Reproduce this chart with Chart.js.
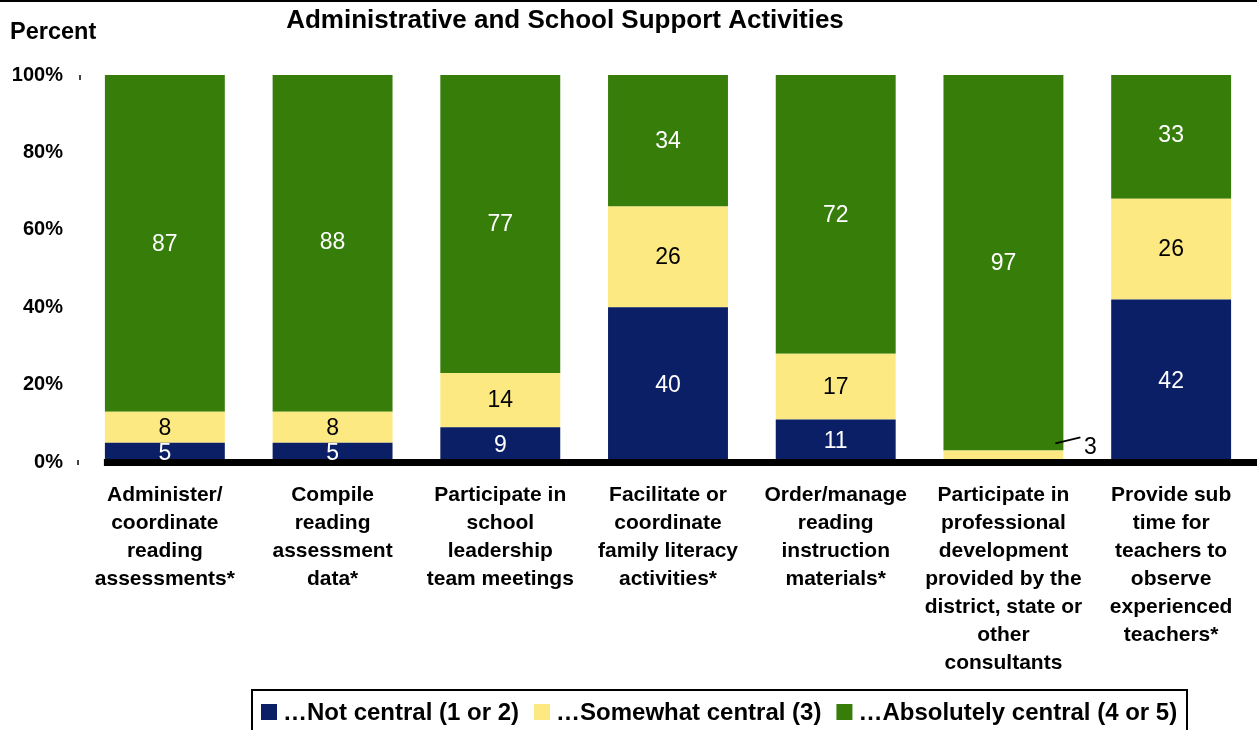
<!DOCTYPE html>
<html>
<head>
<meta charset="utf-8">
<script src="https://cdn.jsdelivr.net/npm/chart.js@4.4.1/dist/chart.umd.min.js"></script>
<style>
  html, body { margin: 0; padding: 0; background: #fff; }
  canvas { display: block; }
</style>
</head>
<body>
<canvas id="grafico" width="1257" height="730"></canvas>
<script>
// categorias (cada linha do rótulo separada)
const categorias = [
  ['Administer/', 'coordinate', 'reading', 'assessments*'],
  ['Compile', 'reading', 'assessment', 'data*'],
  ['Participate in', 'school', 'leadership', 'team meetings'],
  ['Facilitate or', 'coordinate', 'family literacy', 'activities*'],
  ['Order/manage', 'reading', 'instruction', 'materials*'],
  ['Participate in', 'professional', 'development', 'provided by the', 'district, state or', 'other', 'consultants'],
  ['Provide sub', 'time for', 'teachers to', 'observe', 'experienced', 'teachers*']
];

// valores em percentual
const naoCentral = [5, 5, 9, 40, 11, 0, 42];
const algoCentral = [8, 8, 14, 26, 17, 3, 26];
const absCentral = [87, 88, 77, 34, 72, 97, 33];

const nomesSeries = ['\u2026Not central (1 or 2)', '\u2026Somewhat central (3)', '\u2026Absolutely central (4 or 5)'];
const ticksY = [0, 20, 40, 60, 80, 100];

const cores = ['#0B1F66', '#FDE982', '#367D09'];
const coresTexto = ['#ffffff', '#000000', '#ffffff'];
const FONTE = '"Liberation Sans", Arial, sans-serif';

// desenha a linha do zero, os rótulos das barras, título e legenda
const extras = {
  id: 'extras',
  afterDatasetsDraw(chart) {
    const ctx = chart.ctx;
    const y0 = chart.scales.y.getPixelForValue(0);
    const primeira = chart.getDatasetMeta(0).data[0];

    ctx.save();
    ctx.fillStyle = '#000';
    ctx.fillRect(primeira.x - primeira.width / 2 - 1, y0 - 3, chart.width, 7);

    ctx.font = '23px ' + FONTE;
    ctx.textAlign = 'center';
    ctx.textBaseline = 'middle';
    chart.data.datasets.forEach((ds, d) => {
      const meta = chart.getDatasetMeta(d);
      meta.data.forEach((el, i) => {
        const v = ds.data[i];
        if (!v) return;
        if (v < 5) {
          // rótulo pequeno fora da barra com linha guia
          const dir = el.x + el.width / 2;
          ctx.strokeStyle = '#000';
          ctx.lineWidth = 2;
          ctx.beginPath();
          ctx.moveTo(dir - 8, el.y - 7);
          ctx.lineTo(dir + 17, el.y - 13);
          ctx.stroke();
          ctx.fillStyle = '#000';
          ctx.fillText(String(v), dir + 27, el.y - 3);
          return;
        }
        ctx.fillStyle = coresTexto[d];
        ctx.fillText(String(v), el.x, (el.y + el.base) / 2 + 1);
      });
    });
    ctx.restore();
  },
  afterDraw(chart) {
    const ctx = chart.ctx;
    const y = chart.scales.y;
    ctx.save();

    // linha no topo
    ctx.fillStyle = '#000';
    ctx.fillRect(0, 0, chart.width, 2);

    // marquinhas do eixo y
    ctx.fillStyle = '#444';
    ctx.fillRect(79, y.getPixelForValue(100), 2, 5);
    ctx.fillRect(77, y.getPixelForValue(0) - 2, 2, 5);

    // título
    ctx.fillStyle = '#000';
    ctx.textBaseline = 'middle';
    ctx.textAlign = 'center';
    ctx.font = 'bold 26px ' + FONTE;
    ctx.fillText('Administrative and School Support Activities', 565, 21);

    ctx.textAlign = 'left';
    ctx.font = 'bold 23.5px ' + FONTE;
    ctx.fillText('Percent', 10, 33);

    // legenda
    ctx.strokeStyle = '#000';
    ctx.lineWidth = 2;
    ctx.strokeRect(252, 690, 935, 60);
    ctx.font = 'bold 24px ' + FONTE;
    let x = 261;
    nomesSeries.forEach((nome, i) => {
      ctx.fillStyle = cores[i];
      ctx.fillRect(x, 704, 16, 16);
      x += 22;
      ctx.fillStyle = '#000';
      ctx.fillText(nome, x, 713);
      x += ctx.measureText(nome).width + 15;
    });
    ctx.restore();
  }
};

const series = [naoCentral, algoCentral, absCentral];

new Chart(document.getElementById('grafico'), {
  type: 'bar',
  data: {
    labels: categorias,
    datasets: series.map((dados, i) => ({
      label: nomesSeries[i],
      data: dados,
      backgroundColor: cores[i],
      borderWidth: 0,
      barPercentage: 0.715,
      categoryPercentage: 1,
      clip: 0
    }))
  },
  options: {
    responsive: false,
    animation: false,
    layout: { padding: { top: 75, right: 2, left: 0, bottom: 0 } },
    plugins: {
      legend: { display: false },
      title: { display: false },
      tooltip: { enabled: false }
    },
    scales: {
      x: {
        stacked: true,
        grid: { display: false, drawTicks: false },
        border: { display: false },
        ticks: {
          color: '#000',
          font: { family: FONTE, size: 21, weight: 'bold', lineHeight: 1.335 },
          padding: 19,
          maxRotation: 0,
          autoSkip: false
        },
        afterFit(s) { s.height = 268; }
      },
      y: {
        stacked: true,
        min: 0,
        max: 100,
        afterBuildTicks(s) { s.ticks = ticksY.map(v => ({ value: v })); },
        grid: { display: false, drawTicks: false },
        border: { display: false },
        ticks: {
          color: '#000',
          font: { family: FONTE, size: 20, weight: 'bold' },
          padding: 18,
          callback: v => v + '%'
        },
        afterFit(s) { s.width = 81; }
      }
    }
  },
  plugins: [extras]
});
</script>
</body>
</html>
